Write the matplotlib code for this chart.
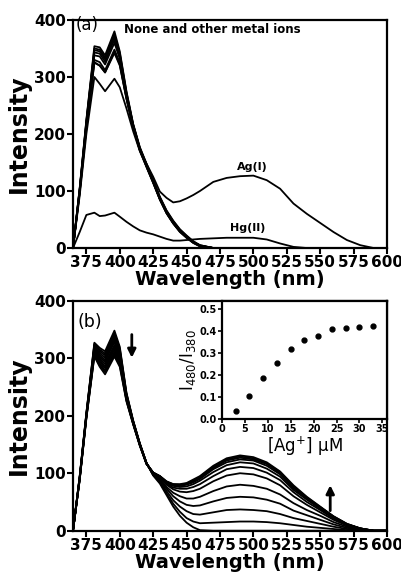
import matplotlib
matplotlib.use('Agg')
import matplotlib.pyplot as plt

# wavelength grid (nm) shared by every spectrum
wl = [365, 370, 375, 381, 385, 389, 396, 400, 405, 410, 415, 420, 425,
      430, 435, 440, 445, 450, 455, 460, 470, 480, 490, 500, 510, 520,
      530, 540, 550, 560, 570, 580, 590, 600]

# (a) ligand alone and with other metal ions
other_1 = [0, 105, 225, 354, 352, 338, 380, 345, 275, 218, 177, 148, 120, 90, 66, 48, 33, 22, 12, 5, 0, 0, 0, 0, 0, 0, 0, 0, 0, 0, 0, 0, 0, 0]
other_2 = [0, 104, 223, 350, 348, 334, 375, 342, 273, 217, 176, 147, 119, 89, 65, 47, 32, 21, 11, 5, 0, 0, 0, 0, 0, 0, 0, 0, 0, 0, 0, 0, 0, 0]
other_3 = [0, 103, 221, 347, 345, 331, 371, 339, 271, 216, 175, 146, 118, 88, 64, 46, 31, 20, 11, 4, 0, 0, 0, 0, 0, 0, 0, 0, 0, 0, 0, 0, 0, 0]
other_4 = [0, 102, 219, 343, 341, 327, 366, 336, 269, 215, 174, 145, 117, 87, 63, 45, 30, 19, 10, 4, 0, 0, 0, 0, 0, 0, 0, 0, 0, 0, 0, 0, 0, 0]
other_5 = [0, 101, 217, 338, 336, 322, 360, 332, 267, 214, 173, 144, 116, 86, 62, 44, 29, 19, 10, 4, 0, 0, 0, 0, 0, 0, 0, 0, 0, 0, 0, 0, 0, 0]
other_6 = [0, 99, 213, 330, 326, 312, 348, 325, 264, 212, 172, 143, 115, 85, 61, 43, 29, 18, 9, 3, 0, 0, 0, 0, 0, 0, 0, 0, 0, 0, 0, 0, 0, 0]
other_7 = [0, 98, 211, 326, 320, 308, 342, 320, 262, 211, 171, 142, 114, 85, 61, 43, 28, 18, 9, 3, 0, 0, 0, 0, 0, 0, 0, 0, 0, 0, 0, 0, 0, 0]
other_8 = [0, 92, 200, 300, 288, 275, 297, 282, 245, 205, 170, 143, 115, 86, 62, 44, 30, 19, 10, 4, 0, 0, 0, 0, 0, 0, 0, 0, 0, 0, 0, 0, 0, 0]
ag_i = [0, 97, 210, 325, 320, 308, 345, 322, 262, 212, 172, 148, 125, 99, 88, 80, 82, 87, 93, 100, 116, 123, 126, 127, 119, 104, 78, 60, 44, 28, 14, 5, 0, 0]
hg_ii = [0, 28, 58, 62, 56, 57, 62, 55, 46, 38, 31, 27, 24, 20, 16, 13, 13, 14, 15, 16, 17, 18, 18, 18, 15, 8, 2, 0, 0, 0, 0, 0, 0, 0]

# (b) titration with Ag+ (uM)
ag_0 = [0, 95, 205, 327, 318, 312, 348, 320, 240, 192, 152, 118, 96, 82, 62, 42, 26, 14, 6, 1, 0, 0, 0, 0, 0, 0, 0, 0, 0, 0, 0, 0, 0, 0]
ag_3 = [0, 94, 204, 325, 315, 308, 344, 317, 239, 191, 152, 118, 97, 84, 65, 47, 33, 22, 16, 13, 14, 15, 16, 16, 15, 13, 10, 7, 5, 3, 1, 0, 0, 0]
ag_6 = [0, 94, 203, 323, 312, 305, 340, 314, 237, 191, 151, 118, 97, 86, 69, 53, 42, 34, 29, 28, 32, 36, 37, 36, 34, 29, 22, 17, 12, 7, 3, 1, 0, 0]
ag_9 = [0, 93, 202, 320, 309, 301, 336, 310, 236, 190, 151, 117, 98, 88, 73, 60, 51, 45, 43, 44, 51, 57, 59, 58, 54, 47, 35, 27, 19, 11, 5, 2, 0, 0]
ag_12 = [0, 92, 201, 318, 306, 297, 332, 307, 235, 189, 150, 117, 99, 90, 76, 66, 60, 56, 56, 59, 69, 77, 80, 78, 73, 63, 48, 36, 26, 15, 7, 2, 0, 0]
ag_15 = [0, 92, 200, 316, 303, 294, 328, 304, 233, 189, 150, 117, 100, 92, 80, 72, 68, 67, 69, 73, 86, 96, 100, 98, 91, 79, 60, 45, 32, 19, 9, 3, 0, 0]
ag_18 = [0, 91, 200, 314, 300, 290, 323, 301, 232, 188, 150, 117, 100, 93, 82, 75, 73, 73, 76, 81, 95, 107, 111, 109, 101, 88, 67, 50, 36, 21, 10, 3, 0, 0]
ag_21 = [0, 90, 199, 312, 297, 286, 319, 298, 230, 188, 150, 117, 101, 94, 83, 78, 76, 77, 81, 87, 102, 114, 119, 117, 108, 94, 71, 54, 38, 23, 11, 4, 0, 0]
ag_24 = [0, 90, 198, 310, 294, 283, 315, 295, 229, 187, 149, 117, 101, 94, 84, 79, 78, 80, 84, 90, 107, 119, 124, 122, 113, 98, 74, 56, 40, 24, 11, 4, 0, 0]
ag_27 = [0, 89, 197, 307, 291, 279, 311, 291, 228, 186, 149, 116, 101, 95, 85, 80, 79, 81, 86, 92, 109, 122, 127, 124, 116, 100, 76, 57, 41, 24, 11, 4, 0, 0]
ag_30 = [0, 89, 196, 305, 288, 276, 307, 288, 226, 186, 148, 116, 101, 95, 85, 81, 80, 82, 87, 94, 111, 124, 129, 126, 117, 102, 77, 58, 41, 25, 12, 4, 0, 0]
ag_33 = [0, 88, 195, 303, 285, 272, 303, 285, 225, 185, 148, 116, 101, 95, 86, 81, 81, 83, 89, 95, 113, 126, 131, 128, 119, 103, 79, 59, 42, 25, 12, 4, 0, 0]

# inset: I480/I380 vs [Ag+]
conc = [3, 6, 9, 12, 15, 18, 21, 24, 27, 30, 33]
ratio = [0.035, 0.105, 0.185, 0.255, 0.32, 0.36, 0.38, 0.41, 0.413, 0.418, 0.424]

xticks = [375, 400, 425, 450, 475, 500, 525, 550, 575, 600]
yticks = [0, 100, 200, 300, 400]

fig = plt.figure(figsize=(4.02, 5.76), dpi=100)
ax1 = fig.add_axes([0.1816, 0.5694, 0.7811, 0.3959])
ax2 = fig.add_axes([0.1816, 0.0786, 0.7811, 0.3993])


def style(ax):
    ax.set_xlim(365, 600)
    ax.set_ylim(0, 400)
    ax.set_xticks(xticks)
    ax.set_yticks(yticks)
    for lab in ax.get_xticklabels() + ax.get_yticklabels():
        lab.set_fontweight('bold')
    ax.tick_params(labelsize=11, length=4, width=1.5, direction='out', pad=1)
    for s in ax.spines.values():
        s.set_linewidth(1.6)
    ax.set_xlabel('Wavelength (nm)', fontsize=14, fontweight='bold', labelpad=0)
    ax.set_ylabel('Intensity', fontsize=17, fontweight='bold', labelpad=2)


for y in [other_1, other_2, other_3, other_4, other_5, other_6, other_7, other_8, ag_i, hg_ii]:
    ax1.plot(wl, y, color='black', lw=1.3)
style(ax1)
ax1.text(367, 392, '(a)', fontsize=12, va='center')
ax1.text(403, 383, 'None and other metal ions', fontsize=8.5, fontweight='bold', va='center')
ax1.text(499, 142, 'Ag(I)', fontsize=8, fontweight='bold', ha='center', va='center')
ax1.text(496, 36, 'Hg(II)', fontsize=8, fontweight='bold', ha='center', va='center')

for y in [ag_0, ag_3, ag_6, ag_9, ag_12, ag_15, ag_18, ag_21, ag_24, ag_27, ag_30, ag_33]:
    ax2.plot(wl, y, color='black', lw=1.3)
style(ax2)
ax2.text(368, 363, '(b)', fontsize=12.5, va='center')
ax2.annotate('', xy=(409, 296), xytext=(409, 346),
             arrowprops=dict(arrowstyle='-|>', color='black', lw=2, mutation_scale=12))
ax2.annotate('', xy=(557.5, 84), xytext=(557.5, 30),
             arrowprops=dict(arrowstyle='-|>', color='black', lw=2, mutation_scale=12))

ins = fig.add_axes([0.552, 0.273, 0.4107, 0.205])
ins.plot(conc, ratio, 'o', color='black', ms=3.5)
ins.set_xlim(0, 36)
ins.set_ylim(0, 0.54)
ins.set_xticks([0, 5, 10, 15, 20, 25, 30, 35])
ins.set_yticks([0.0, 0.1, 0.2, 0.3, 0.4, 0.5])
ins.set_yticklabels(['0.0', '0.1', '0.2', '0.3', '0.4', '0.5'])
for lab in ins.get_xticklabels() + ins.get_yticklabels():
    lab.set_fontweight('bold')
ins.tick_params(labelsize=7, length=3, width=1.2, pad=1)
for s in ins.spines.values():
    s.set_linewidth(1.6)
ins.set_xlabel('[Ag$^{+}$] \u03bcM', fontsize=12, labelpad=0)
ins.set_ylabel('I$_{480}$/I$_{380}$', fontsize=12, labelpad=1)

fig.savefig('out.png', dpi=100)
